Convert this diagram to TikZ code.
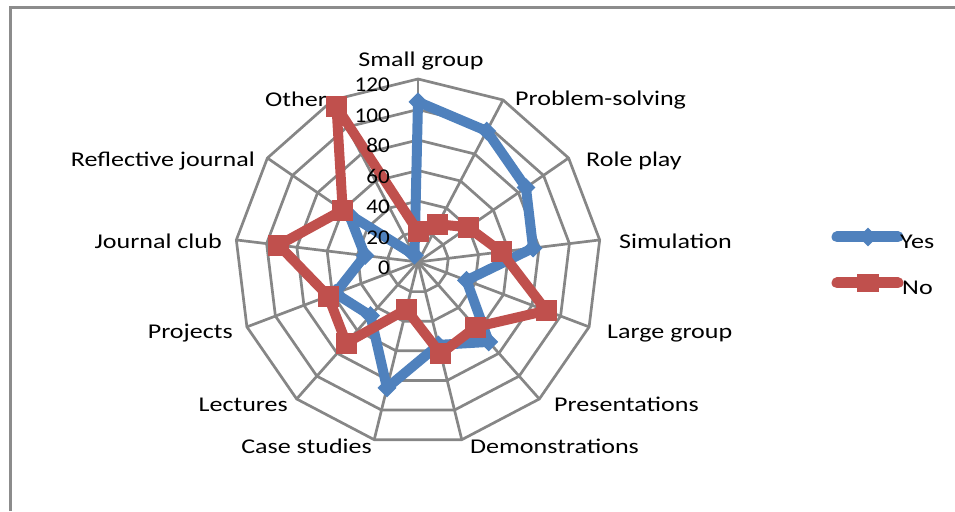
\documentclass[tikz,border=0pt]{standalone}
\usepackage{fontspec}
\setmainfont{Carlito}
\newfontfamily\catfont{Carlito}[FakeStretch=1.24]
\newfontfamily\numfont{Carlito}[FakeStretch=1.1]
\usetikzlibrary{shapes.geometric}
\definecolor{gridgray}{RGB}{134,134,134}
\definecolor{framegray}{RGB}{140,140,140}
\definecolor{yesblue}{RGB}{79,129,189}
\definecolor{nored}{RGB}{192,80,77}
\tikzset{
  gridline/.style={gridgray, line width=2.7pt},
  yesline/.style={yesblue, line width=10pt, line join=round},
  noline/.style={nored, line width=10pt, line join=round},
  yesmark/.style={diamond, fill=yesblue, inner sep=0pt, minimum width=19pt, minimum height=19pt},
  nomark/.style={rectangle, fill=nored, inner sep=0pt, minimum size=21pt},
  catlabel/.style={inner sep=0pt, font=\catfont\fontsize{21}{25}\selectfont},
  numlabel/.style={inner sep=0pt, anchor=base east, font=\numfont\fontsize{21}{25}\selectfont},
}
\begin{document}
\begin{tikzpicture}[x=1pt,y=1pt]
  \useasboundingbox (0,0) rectangle (955,511);
  \draw[framegray, line width=3pt] (10,0) -- (10,503) -- (955,503);
  % category labels
  \node[catlabel, anchor=base] (small) at (421,444) {Small group};
  \node[catlabel, anchor=base west] (problem) at (515,405) {Problem-solving};
  \node[catlabel, anchor=base west] (role) at (586,344) {Role play};
  \node[catlabel, anchor=base west] (simul) at (619,262) {Simulation};
  \node[catlabel, anchor=base west] (large) at (607,172) {Large group};
  \node[catlabel, anchor=base west] (present) at (554,99) {Presentations};
  \node[catlabel, anchor=base west] (demo) at (470,57) {Demonstrations};
  \node[catlabel, anchor=base east] (cases) at (372,57) {Case studies};
  \node[catlabel, anchor=base east] (lect) at (288,99) {Lectures};
  \node[catlabel, anchor=base east] (proj) at (233,172) {Projects};
  \node[catlabel, anchor=base east] (jclub) at (222,262) {Journal club};
  \node[catlabel, anchor=base east] (refl) at (255,344) {Reflective journal};
  \node[catlabel, anchor=base west] (other) at (265,404) {Other};
  \begin{scope}[shift={(418,249)}]
    \coordinate (c) at (0,0);
    % web
    \foreach \r in {1,...,6}
      \draw[gridline] (90:{30.5*\r}) \foreach \k in {1,...,12} { -- ({90-\k*360/13}:{30.5*\r}) } -- cycle;
    \foreach \k in {0,...,12} {
      \coordinate (ax\k) at ({90-\k*360/13}:183);
      \draw[gridline] (c) -- (ax\k);
    }
    % Yes
    \foreach \v [count=\k from 0] in {105,97,86,76,34,70,56,85,47,58,35,55,5}
      \coordinate (yes\k) at ({90-\k*360/13}:{\v*1.525});
    \draw[yesline] (yes0) \foreach \k in {1,...,12} { -- (yes\k) } -- cycle;
    \foreach \k in {0,...,12}
      \node[yesmark] at (yes\k) {};
    % No
    \foreach \v [count=\k from 0] in {20,28,40,55,90,57,62,32,71,63,92,60,115}
      \coordinate (no\k) at ({90-\k*360/13}:{\v*1.525});
    \draw[noline] (no0) \foreach \k in {1,...,12} { -- (no\k) } -- cycle;
    \foreach \k in {0,...,12}
      \node[nomark] at (no\k) {};
    % axis values
    \foreach \v in {0,20,...,120}
      \node[numlabel] (num\v) at (-28,{\v*1.525-13}) {\v};
  \end{scope}
  % legend
  \coordinate (yesA) at (837,274);
  \coordinate (yesB) at (898,274);
  \draw[yesline, line width=11pt, line cap=round] (yesA) -- (yesB);
  \node[yesmark] (yeskey) at (868,274) {};
  \node[catlabel, anchor=base west] (yestext) at (900,262) {Yes};
  \coordinate (noA) at (837,228);
  \coordinate (noB) at (898,228);
  \draw[noline, line width=11pt, line cap=round] (noA) -- (noB);
  \node[nomark, minimum width=22pt, minimum height=18pt] (nokey) at (868,228) {};
  \node[catlabel, anchor=base west] (notext) at (902,216) {No};
\end{tikzpicture}
\end{document}
